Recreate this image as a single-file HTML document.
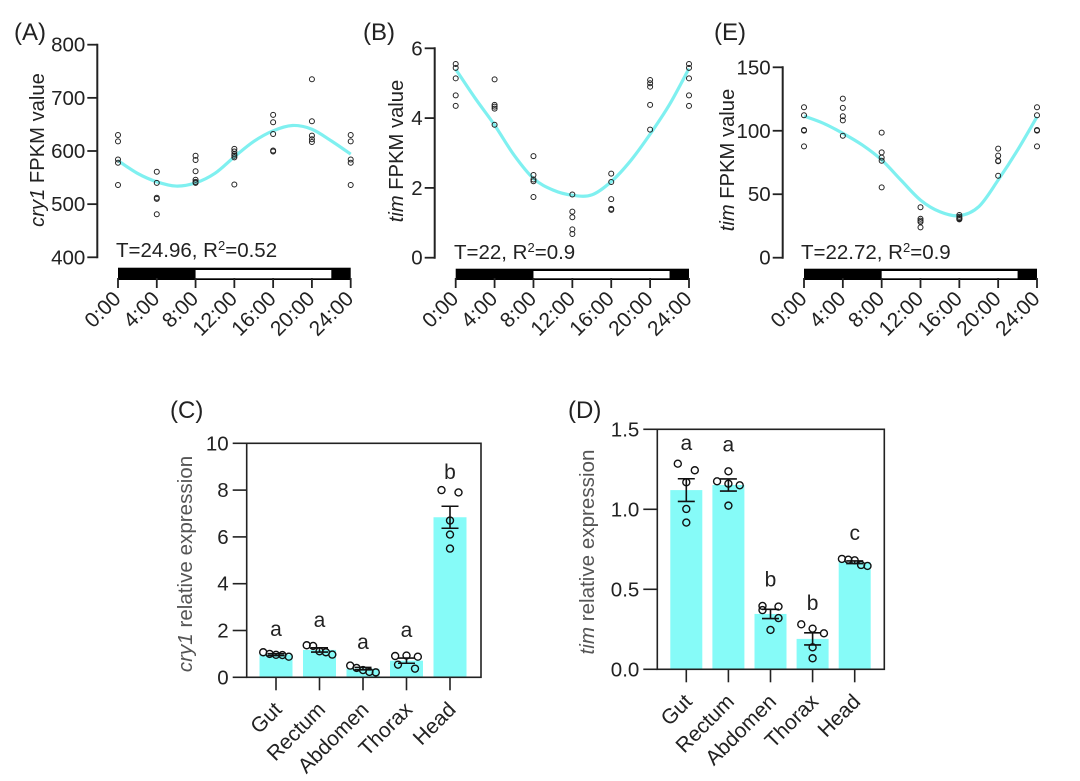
<!DOCTYPE html>
<html>
<head>
<meta charset="utf-8">
<title>Circadian expression of cry1 and tim</title>
<style>
html,body{margin:0;padding:0;background:#fff;}
svg{display:block;font-family:"Liberation Sans",Arial,sans-serif;fill:#222;filter:blur(0.35px);}
.panel{font-size:24px;}
.tick{font-size:20.5px;}
.tick2{font-size:20.5px;}
.xlab{font-size:21px;}
.title-a{font-size:20.2px;}
.title-c{font-size:20.6px;}
.ann{font-size:20.5px;}
.sig{font-size:21px;}
.gray{fill:#555;}
</style>
</head>
<body>
<svg id="fig" xmlns="http://www.w3.org/2000/svg" width="1080" height="781" viewBox="0 0 1080 781">
  <rect width="1080" height="781" fill="#fff"></rect>
  <text class="panel" x="14" y="40">(A)</text>
  <text class="panel" x="363" y="40">(B)</text>
  <text class="panel" x="714" y="40">(E)</text>
  <text class="panel" x="170" y="418">(C)</text>
  <text class="panel" x="568" y="418">(D)</text>

  <text class="title-a" transform="translate(44,150) rotate(-90)" text-anchor="middle"><tspan font-style="italic">cry1</tspan> FPKM value</text>
  <text class="title-a" transform="translate(403,151) rotate(-90)" text-anchor="middle"><tspan font-style="italic">tim</tspan> FPKM value</text>
  <text class="title-a" transform="translate(734,160) rotate(-90)" text-anchor="middle"><tspan font-style="italic">tim</tspan> FPKM value</text>
  <text class="title-c gray" transform="translate(192,564) rotate(-90)" text-anchor="middle"><tspan font-style="italic">cry1</tspan> relative expression</text>
  <text class="title-c gray" transform="translate(594,552) rotate(-90)" text-anchor="middle"><tspan font-style="italic">tim</tspan> relative expression</text>

  <text class="ann" x="116" y="257">T=24.96, R<tspan font-size="13" dy="-7">2</tspan><tspan dy="7">=0.52</tspan></text>
  <text class="ann" x="454" y="259">T=22, R<tspan font-size="13" dy="-7">2</tspan><tspan dy="7">=0.9</tspan></text>
  <text class="ann" x="801" y="259">T=22.72, R<tspan font-size="13" dy="-7">2</tspan><tspan dy="7">=0.9</tspan></text>
</svg>

<script>
// ---------- Time-course data ----------
var timeHours = [0, 4, 8, 12, 16, 20, 24];
var timeLabels = ['0:00', '4:00', '8:00', '12:00', '16:00', '20:00', '24:00'];
var lightOnHour = 8;
var lightOffHour = 22;
var curveHours = [0, 2, 4, 6, 8, 10, 12, 14, 16, 18, 20, 22, 24];

var aTicks = [400, 500, 600, 700, 800];
var aPoints = [
  [630, 618, 584, 578, 536],
  [561, 540, 512, 510, 481],
  [591, 583, 562, 546, 542, 540],
  [604, 599, 594, 591, 588, 537],
  [668, 654, 632, 601, 599],
  [735, 656, 629, 622, 617],
  [630, 618, 584, 578, 536]
];
var aCurve = [582, 558, 542, 534, 540, 558, 589, 618, 638, 648, 641, 619, 594];

var bTicks = [0, 2, 4, 6];
var bPoints = [
  [5.55, 5.44, 5.14, 4.65, 4.35],
  [5.11, 4.38, 4.33, 4.27, 3.81],
  [2.91, 2.37, 2.24, 2.19, 1.74],
  [1.81, 1.32, 1.16, 0.81, 0.68],
  [2.41, 2.17, 1.68, 1.40, 1.37],
  [5.09, 5.00, 4.90, 4.38, 3.67],
  [5.55, 5.44, 5.14, 4.65, 4.35]
];
var bCurve = [5.40, 4.57, 3.80, 2.94, 2.27, 1.94, 1.79, 1.80, 2.18, 2.78, 3.54, 4.39, 5.42];

var eTicks = [0, 50, 100, 150];
var ePoints = [
  [118.5, 112.2, 100.6, 100.1, 87.7],
  [125.3, 118, 111.4, 108.2, 96.1],
  [98.5, 83, 78.8, 76.4, 55.4],
  [39.7, 30.7, 29.2, 28.1, 23.9],
  [33.6, 32.3, 31.3, 30.8, 30.2],
  [85.9, 80.4, 76.4, 76.0, 64.6],
  [118.5, 112.2, 100.6, 100.1, 87.7]
];
var eCurve = [111.6, 105.9, 98, 88.8, 77, 61, 45.4, 36.2, 33.1, 40.2, 61.2, 84.8, 111];

// ---------- Tissue bar data ----------
var tissues = ['Gut', 'Rectum', 'Abdomen', 'Thorax', 'Head'];

var cTicks = [0, 2, 4, 6, 8, 10];
var cTickLabels = ['0', '2', '4', '6', '8', '10'];
var cMeans = [0.97, 1.17, 0.37, 0.71, 6.84];
var cErrors = [0.04, 0.09, 0.05, 0.11, 0.47];
var cSamples = [
  [1.07, 1.00, 0.96, 0.95, 0.88],
  [1.37, 1.34, 1.11, 1.07, 0.97],
  [0.50, 0.40, 0.31, 0.23, 0.21],
  [0.91, 0.93, 0.88, 0.54, 0.37],
  [8.00, 7.90, 6.70, 6.10, 5.50]
];
var cLetters = ['a', 'a', 'a', 'a', 'b'];
var cLetterHeights = [1.76, 2.15, 1.21, 1.72, 8.47];

var dTicks = [0, 0.5, 1, 1.5];
var dTickLabels = ['0.0', '0.5', '1.0', '1.5'];
var dMeans = [1.12, 1.152, 0.346, 0.19, 0.669];
var dErrors = [0.071, 0.038, 0.029, 0.038, 0.008];
var dSamples = [
  [1.285, 1.244, 1.169, 1.002, 0.917],
  [1.2375, 1.175, 1.16, 1.15, 1.023],
  [0.396, 0.392, 0.37, 0.32, 0.246],
  [0.281, 0.254, 0.225, 0.1375, 0.069],
  [0.69, 0.685, 0.681, 0.652, 0.646]
];
var dLetters = ['a', 'a', 'b', 'b', 'c'];
var dLetterHeights = [1.37, 1.36, 0.517, 0.37, 0.808];

// ---------- Drawing ----------
var NS = 'http://www.w3.org/2000/svg';
var INK = '#222';
var fig = document.getElementById('fig');

function el(tag, attrs, parent) {
  var n = document.createElementNS(NS, tag);
  for (var k in attrs) n.setAttribute(k, attrs[k]);
  (parent || fig).appendChild(n);
  return n;
}
function linear(d0, d1, r0, r1) {
  return function (v) { return r0 + (v - d0) / (d1 - d0) * (r1 - r0); };
}
function smoothPath(pts) {
  var d = 'M' + pts[0][0].toFixed(2) + ' ' + pts[0][1].toFixed(2);
  for (var i = 0; i < pts.length - 1; i++) {
    var p0 = pts[Math.max(i - 1, 0)], p1 = pts[i], p2 = pts[i + 1], p3 = pts[Math.min(i + 2, pts.length - 1)];
    d += 'C' + (p1[0] + (p2[0] - p0[0]) / 6).toFixed(2) + ' ' + (p1[1] + (p2[1] - p0[1]) / 6).toFixed(2) +
      ' ' + (p2[0] - (p3[0] - p1[0]) / 6).toFixed(2) + ' ' + (p2[1] - (p3[1] - p1[1]) / 6).toFixed(2) +
      ' ' + p2[0].toFixed(2) + ' ' + p2[1].toFixed(2);
  }
  return d;
}

function drawYAxis(g, key, axisX, y, ticks, labels, cls, tickLen, strokeW, gap) {
  ticks.forEach(function (t, i) {
    var ln = el('line', { x1: axisX - tickLen, x2: axisX, y1: y(t), y2: y(t), stroke: INK, 'stroke-width': strokeW }, g);
    
    
    var tx = el('text', { x: axisX - tickLen - gap, y: y(t) + 7, 'text-anchor': 'end', 'class': cls }, g);
    tx.textContent = labels ? labels[i] : String(t);
    
    
  });
}

function drawTimePanel(key, cfg, ticks, points, curve) {
  var g = el('g', {});
  
  
  var x = linear(0, 24, cfg.x0, cfg.x1);
  var y = linear(ticks[0], ticks[ticks.length - 1], cfg.yBottom, cfg.yTop);

  var axis = el('line', { x1: cfg.axisX, x2: cfg.axisX, y1: cfg.yTop - 1, y2: cfg.yBottom + 1, stroke: INK, 'stroke-width': 2 }, g);
  
  
  drawYAxis(g, key, cfg.axisX, y, ticks, null, 'tick', 10, 1.8, 2);

  var night = el('rect', { x: x(0), y: cfg.barTop, width: x(24) - x(0), height: 280 - cfg.barTop, fill: '#000' }, g);
  
  
  var day = el('rect', { x: x(lightOnHour), y: cfg.barTop + 2.3, width: x(lightOffHour) - x(lightOnHour), height: 280 - cfg.barTop - 4, fill: '#fff' }, g);
  
  

  timeHours.forEach(function (h, i) {
    var t = el('line', { x1: x(h), x2: x(h), y1: 278, y2: 288, stroke: INK, 'stroke-width': 1.8 }, g);
    
    
    var px = x(h) + 4, py = 300;
    var l = el('text', { x: px, y: py, 'text-anchor': 'end', 'class': 'xlab', transform: 'rotate(-45 ' + px + ' ' + py + ')' }, g);
    l.textContent = timeLabels[i];
    
    
  });

  var linePts = curveHours.map(function (h, i) { return [x(h), y(curve[i])]; });
  var fit = el('path', { d: smoothPath(linePts), fill: 'none', stroke: '#7ff0f0', 'stroke-width': 3.2 }, g);
  
  

  timeHours.forEach(function (h, i) {
    points[i].forEach(function (v) {
      var c = el('circle', { cx: x(h), cy: y(v), r: 2.5, fill: 'none', stroke: '#222', 'stroke-width': 1 }, g);
      
      
    });
  });
}

// Spread samples that sit close together into a row, in array order.
function swarmOffsets(pixelYs, gap) {
  var offs = pixelYs.map(function () { return 0; });
  var start = 0;
  for (var i = 1; i <= pixelYs.length; i++) {
    if (i === pixelYs.length || Math.abs(pixelYs[i] - pixelYs[i - 1]) > gap) {
      var n = i - start;
      for (var j = 0; j < n && n > 1; j++) {
        if (n === 4) offs[start + j] = (j % 2 ? 8 : -8);
        else offs[start + j] = (j - (n - 1) / 2) * (n === 5 ? 6.4 : 34 / n);
      }
      start = i;
    }
  }
  return offs;
}

function drawBarPanel(key, cfg, ticks, tickLabels, means, errors, samples, letters, heights) {
  var g = el('g', {});
  
  
  var y = linear(ticks[0], ticks[ticks.length - 1], cfg.yBottom, cfg.yTop);
  var x = function (i) { return cfg.firstCenter + i * cfg.step; };

  tissues.forEach(function (name, i) {
    var bar = el('rect', { x: x(i) - cfg.barW / 2, y: y(means[i]), width: cfg.barW, height: cfg.yBottom - y(means[i]), fill: '#86fbf8' }, g);
    
    
  });

  var frame = el('rect', { x: cfg.left, y: cfg.yTop, width: cfg.right - cfg.left, height: cfg.yBottom - cfg.yTop, fill: 'none', stroke: INK, 'stroke-width': 1.6 }, g);
  
  
  drawYAxis(g, key, cfg.left, y, ticks, tickLabels, 'tick2', 14, 1.6, 4);

  tissues.forEach(function (name, i) {
    var t = el('line', { x1: x(i), x2: x(i), y1: cfg.yBottom, y2: cfg.yBottom + 13, stroke: INK, 'stroke-width': 1.6 }, g);
    
    
    var px = x(i) + 7, py = cfg.yBottom + 33.5;
    var l = el('text', { x: px, y: py, 'text-anchor': 'end', 'class': 'xlab', transform: 'rotate(-45 ' + px + ' ' + py + ')' }, g);
    l.textContent = name;
    
    

    var hi = y(means[i] + errors[i]), lo = y(means[i] - errors[i]);
    var err = el('path', {
      d: 'M' + x(i) + ' ' + hi + 'V' + lo + 'M' + (x(i) - 8.5) + ' ' + hi + 'h17M' + (x(i) - 8.5) + ' ' + lo + 'h17',
      fill: 'none', stroke: '#111', 'stroke-width': 1.6
    }, g);
    
    

    var ys = samples[i].map(y);
    var offs = swarmOffsets(ys, cfg.swarmGap);
    ys.forEach(function (py2, j) {
      var c = el('circle', { cx: x(i) + offs[j], cy: py2, r: 3.5, fill: 'none', stroke: '#111', 'stroke-width': 1.4 }, g);
      
      
    });

    var s = el('text', { x: x(i), y: y(heights[i]), 'text-anchor': 'middle', 'class': 'sig' }, g);
    s.textContent = letters[i];
    
    
  });
}

drawTimePanel('a', { x0: 118, x1: 350.7, axisX: 97.3, yTop: 44.7, yBottom: 257.3, barTop: 267.7 }, aTicks, aPoints, aCurve);
drawTimePanel('b', { x0: 455.7, x1: 689, axisX: 434.7, yTop: 48.3, yBottom: 257.7, barTop: 268.7 }, bTicks, bPoints, bCurve);
drawTimePanel('e', { x0: 804, x1: 1037, axisX: 782.7, yTop: 67.3, yBottom: 257.7, barTop: 268.7 }, eTicks, ePoints, eCurve);
drawBarPanel('c', { left: 246.7, right: 481, yTop: 443.3, yBottom: 677.3, firstCenter: 276, step: 43.5, barW: 33, swarmGap: 7 }, cTicks, cTickLabels, cMeans, cErrors, cSamples, cLetters, cLetterHeights);
drawBarPanel('d', { left: 657.3, right: 884.3, yTop: 429.3, yBottom: 669.3, firstCenter: 686.3, step: 42.1, barW: 32, swarmGap: 8.5 }, dTicks, dTickLabels, dMeans, dErrors, dSamples, dLetters, dLetterHeights);
</script>
</body>
</html>
